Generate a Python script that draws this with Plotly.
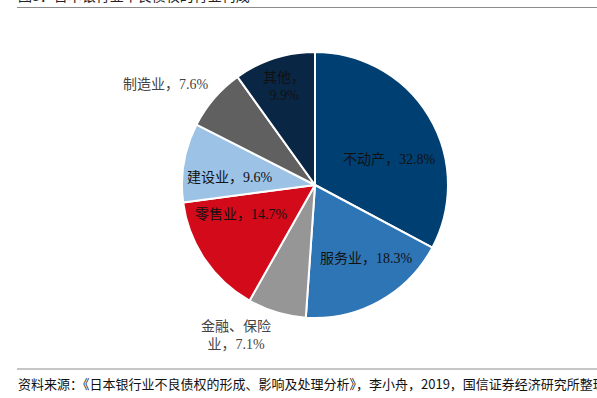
import math
import plotly.graph_objects as go

categories = ["不动产", "服务业", "金融、保险<br>业", "零售业", "建设业", "制造业", "其他"]
values = [32.8, 18.3, 7.1, 14.7, 9.6, 7.6, 9.9]
colors = ["#003F72", "#2E75B6", "#969696", "#D20A1A", "#9CC2E6", "#606060", "#0A2645"]
label_sep = ["，", "，", "，", "，", "，", "，", "，<br>"]

title_text = "图3：日本银行业不良债权的行业构成"
source_text = "资料来源：《日本银行业不良债权的形成、影响及处理分析》，李小舟，2019，国信证券经济研究所整理"

# label placement (style): shift from slice mid-angle (deg) and radius as fraction of pie radius
label_angle_shift = [12.5, -6.0, 11.0, 12.0, -5.0, -6.8, 0.4]
label_radius = [0.594, 0.670, 1.275, 0.600, 0.641, 1.349, 0.780]
label_colors = ["#111111", "#111111", "#444444", "#111111", "#111111", "#444444", "#111111"]

texts = [f"{c}{s}{v:.1f}%" for c, s, v in zip(categories, label_sep, values)]

W, H = 597, 398
L, R, T, B = 182, 149, 52, 80
ph = H - T - B
pw = W - L - R
cx, cy = L + pw / 2, T + ph / 2
rad = min(pw, ph) / 2


def px_to_paper_y(p):
    return (H - B - p) / ph


def px_to_paper_x(p):
    return (p - L) / pw


fig = go.Figure(go.Pie(
    labels=categories,
    values=values,
    textinfo="none",
    sort=False,
    direction="clockwise",
    rotation=0,
    marker=dict(colors=colors, line=dict(color="white", width=2)),
    showlegend=False,
    hoverinfo="label+percent",
))

annotations = []
total = sum(values)
cum = 0.0
for txt, v, da, rf, col in zip(texts, values, label_angle_shift, label_radius, label_colors):
    mid = (cum + v / 2) / total * 360.0
    cum += v
    a = math.radians(mid + da)
    x = cx + rf * rad * math.sin(a)
    y = cy - rf * rad * math.cos(a)
    annotations.append(dict(
        text=txt, xref="paper", yref="paper",
        x=px_to_paper_x(x), y=px_to_paper_y(y),
        xanchor="center", yanchor="middle", showarrow=False, align="center",
        font=dict(family="Liberation Serif, Noto Sans CJK SC", size=14, color=col),
    ))

annotations += [
    dict(text=title_text, xref="paper", yref="paper",
         x=px_to_paper_x(16), y=px_to_paper_y(7), xanchor="left", yanchor="bottom",
         showarrow=False, font=dict(family="Noto Sans CJK SC", size=14, color="#222222")),
    dict(text=source_text, xref="paper", yref="paper",
         x=px_to_paper_x(16), y=px_to_paper_y(383), xanchor="left", yanchor="middle",
         showarrow=False, font=dict(family="Noto Sans CJK SC", size=13, color="#111111")),
]

fig.update_layout(
    width=W, height=H,
    margin=dict(l=L, r=R, t=T, b=B),
    paper_bgcolor="white",
    plot_bgcolor="white",
    shapes=[
        dict(type="line", xref="paper", yref="paper",
             x0=px_to_paper_x(17), x1=px_to_paper_x(600),
             y0=px_to_paper_y(7.5), y1=px_to_paper_y(7.5),
             line=dict(color="#8c8c8c", width=1)),
        dict(type="line", xref="paper", yref="paper",
             x0=px_to_paper_x(17), x1=px_to_paper_x(600),
             y0=px_to_paper_y(369), y1=px_to_paper_y(369),
             line=dict(color="#8c8c8c", width=1)),
    ],
    annotations=annotations,
)

fig.write_html(
    "out.html",
    config={"displayModeBar": False},
    post_script="document.body.style.margin='0';document.body.style.overflow='hidden';",
)
